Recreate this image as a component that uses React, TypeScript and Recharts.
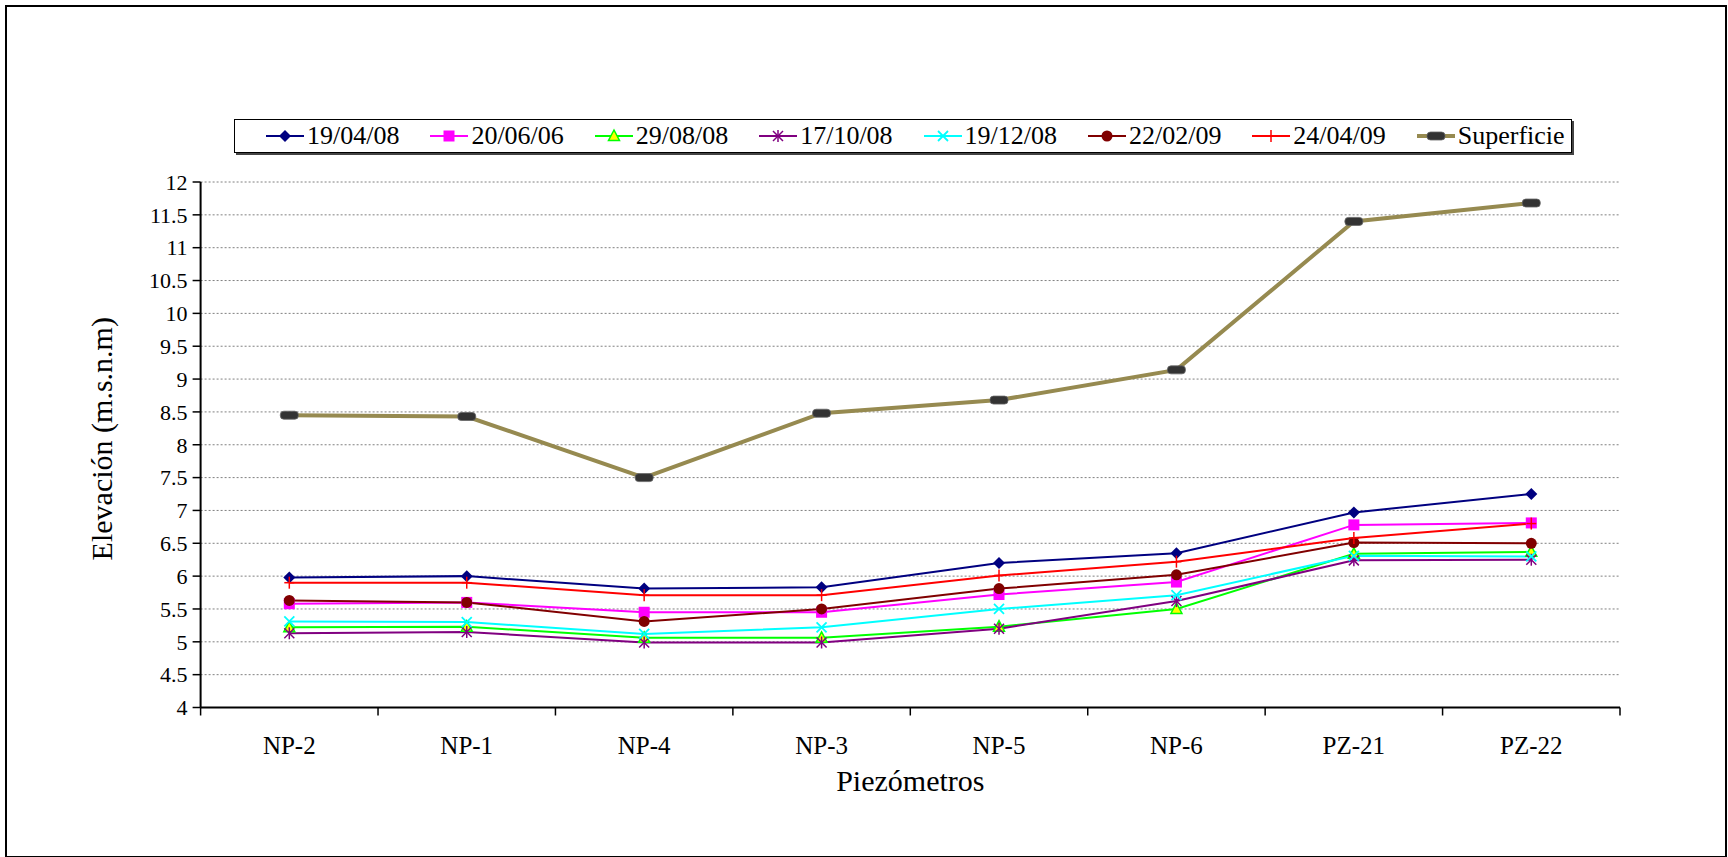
import { LineChart, Line, XAxis, YAxis, CartesianGrid, Label } from 'recharts';

const categories = ['NP-2', 'NP-1', 'NP-4', 'NP-3', 'NP-5', 'NP-6', 'PZ-21', 'PZ-22'];

const s190408 = [5.98, 6.0, 5.81, 5.83, 6.2, 6.35, 6.97, 7.25];
const s200606 = [5.58, 5.6, 5.45, 5.45, 5.72, 5.91, 6.78, 6.81];
const s290808 = [5.22, 5.23, 5.06, 5.06, 5.23, 5.5, 6.34, 6.37];
const s171008 = [5.13, 5.15, 4.99, 4.99, 5.2, 5.62, 6.24, 6.25];
const s191208 = [5.31, 5.3, 5.12, 5.22, 5.5, 5.71, 6.31, 6.3];
const s220209 = [5.63, 5.6, 5.31, 5.5, 5.81, 6.02, 6.51, 6.5];
const s240409 = [5.9, 5.9, 5.71, 5.71, 6.01, 6.22, 6.58, 6.8];
const superficie = [8.45, 8.43, 7.5, 8.48, 8.68, 9.14, 11.4, 11.68];

const yTicks = [4, 4.5, 5, 5.5, 6, 6.5, 7, 7.5, 8, 8.5, 9, 9.5, 10, 10.5, 11, 11.5, 12];

const FONT = 'Liberation Serif, serif';

type Kind = 'diamond' | 'square' | 'triangle' | 'asterisk' | 'x' | 'circle' | 'plus' | 'bar';

const series: { key: string; name: string; values: number[]; color: string; kind: Kind; width: number }[] = [
  { key: 'a', name: '19/04/08', values: s190408, color: '#000080', kind: 'diamond', width: 2 },
  { key: 'b', name: '20/06/06', values: s200606, color: '#FF00FF', kind: 'square', width: 2 },
  { key: 'c', name: '29/08/08', values: s290808, color: '#00FF00', kind: 'triangle', width: 2 },
  { key: 'd', name: '17/10/08', values: s171008, color: '#800080', kind: 'asterisk', width: 2 },
  { key: 'e', name: '19/12/08', values: s191208, color: '#00FFFF', kind: 'x', width: 2 },
  { key: 'f', name: '22/02/09', values: s220209, color: '#800000', kind: 'circle', width: 2 },
  { key: 'g', name: '24/04/09', values: s240409, color: '#FF0000', kind: 'plus', width: 2 },
  { key: 'h', name: 'Superficie', values: superficie, color: '#968A50', kind: 'bar', width: 4 },
];

const data = categories.map((name, i) => {
  const row: Record<string, string | number> = { name };
  series.forEach((s) => {
    row[s.key] = s.values[i];
  });
  return row;
});

const MarkerShape = ({ kind, cx, cy, color }: { kind: Kind; cx: number; cy: number; color: string }) => {
  switch (kind) {
    case 'diamond':
      return <path d={`M${cx},${cy - 6}L${cx + 6},${cy}L${cx},${cy + 6}L${cx - 6},${cy}Z`} fill={color} />;
    case 'square':
      return <rect x={cx - 5.5} y={cy - 5.5} width={11} height={11} fill={color} />;
    case 'triangle':
      return (
        <path d={`M${cx},${cy - 6}L${cx + 5.5},${cy + 4.5}L${cx - 5.5},${cy + 4.5}Z`} fill="#FFFF00" stroke={color} strokeWidth={1.5} />
      );
    case 'asterisk':
      return (
        <g stroke={color} strokeWidth={1.5}>
          <line x1={cx - 5} y1={cy - 5} x2={cx + 5} y2={cy + 5} />
          <line x1={cx - 5} y1={cy + 5} x2={cx + 5} y2={cy - 5} />
          <line x1={cx} y1={cy - 6} x2={cx} y2={cy + 6} />
        </g>
      );
    case 'x':
      return (
        <g stroke={color} strokeWidth={1.8}>
          <line x1={cx - 5} y1={cy - 5} x2={cx + 5} y2={cy + 5} />
          <line x1={cx - 5} y1={cy + 5} x2={cx + 5} y2={cy - 5} />
        </g>
      );
    case 'circle':
      return <circle cx={cx} cy={cy} r={5.5} fill={color} />;
    case 'plus':
      return (
        <g stroke={color} strokeWidth={1.5}>
          <line x1={cx - 5} y1={cy} x2={cx + 5} y2={cy} />
          <line x1={cx} y1={cy - 6} x2={cx} y2={cy + 6} />
        </g>
      );
    case 'bar':
    default:
      return <rect x={cx - 9} y={cy - 4} width={18} height={8} rx={3.5} fill="#333333" stroke="#666" strokeWidth={0.8} />;
  }
};

const CategoryTick = (props: any) => {
  const { x, y, payload, index } = props;
  const half = payload && payload.offset ? payload.offset : 88.7;
  const last = index === categories.length - 1;
  return (
    <g>
      <line x1={x - half} y1={y} x2={x - half} y2={y + 8} stroke="#000" strokeWidth={1.5} />
      {last && <line x1={x + half} y1={y} x2={x + half} y2={y + 8} stroke="#000" strokeWidth={1.5} />}
      <text x={x} y={y + 46.5} textAnchor="middle" fontFamily={FONT} fontSize={25} fill="#000">
        {payload.value}
      </text>
    </g>
  );
};

const YTitle = (props: any) => {
  const vb = props.viewBox || { x: 80, y: 182, width: 120, height: 525 };
  const cx = vb.x + 20.5;
  const cy = vb.y + vb.height / 2 - 6;
  return (
    <text
      x={cx}
      y={cy}
      transform={`rotate(-90, ${cx}, ${cy})`}
      textAnchor="middle"
      dominantBaseline="central"
      fontFamily={FONT}
      fontSize={30}
      fill="#000"
    >
      Elevación (m.s.n.m)
    </text>
  );
};

const XTitle = (props: any) => {
  const vb = props.viewBox || { x: 200, y: 707, width: 1420, height: 60 };
  return (
    <text x={vb.x + vb.width / 2} y={vb.y + vb.height + 23.5} textAnchor="middle" fontFamily={FONT} fontSize={30} fill="#000">
      Piezómetros
    </text>
  );
};

const LegendBox = () => (
  <div
    style={{
      position: 'absolute',
      left: 234,
      top: 119,
      width: 1338,
      height: 34,
      boxSizing: 'border-box',
      border: '1px solid #000',
      boxShadow: '2px 2px 0 #444',
      background: '#fff',
      display: 'flex',
      alignItems: 'center',
      paddingLeft: 31,
      fontFamily: FONT,
      fontSize: 26,
      color: '#000',
    }}
  >
    {series.map((s) => (
      <div key={s.key} style={{ width: 164.4, display: 'flex', alignItems: 'center', flex: '0 0 auto' }}>
        <svg width={38} height={20} style={{ display: 'block' }}>
          <line x1={0} y1={10} x2={38} y2={10} stroke={s.color} strokeWidth={s.width} />
          <MarkerShape kind={s.kind} cx={19} cy={10} color={s.color} />
        </svg>
        <span style={{ marginLeft: 3, whiteSpace: 'nowrap', lineHeight: '30px' }}>{s.name}</span>
      </div>
    ))}
  </div>
);

export default function App() {
  return (
    <div style={{ position: 'absolute', left: 0, top: 0, width: 1728, height: 857, background: '#fff', overflow: 'hidden' }}>
      <div
        style={{
          position: 'absolute',
          left: 5,
          top: 5,
          width: 1722,
          height: 853,
          boxSizing: 'border-box',
          border: '2px solid #000',
        }}
      />
      <div style={{ position: 'absolute', left: 0, top: 0 }}>
        <LineChart width={1728} height={857} data={data} margin={{ top: 182, right: 108, left: 80.6, bottom: 89.5 }}>
          <CartesianGrid vertical={false} stroke="#808080" strokeDasharray="2 2" />
          <XAxis
            dataKey="name"
            scale="band"
            height={60}
            interval={0}
            tickLine={false}
            tickSize={0}
            tickMargin={0}
            axisLine={{ stroke: '#000', strokeWidth: 2 }}
            tick={CategoryTick}
          >
            <Label content={XTitle} />
          </XAxis>
          <YAxis
            type="number"
            domain={[4, 12]}
            ticks={yTicks}
            interval={0}
            width={120}
            tickSize={8}
            tickMargin={5}
            tickLine={{ stroke: '#000', strokeWidth: 1.5 }}
            axisLine={{ stroke: '#000', strokeWidth: 2 }}
            tick={{ fontFamily: FONT, fontSize: 22, fill: '#000' }}
          >
            <Label content={YTitle} />
          </YAxis>
          {series.map((s) => (
            <Line
              key={s.key}
              type="linear"
              dataKey={s.key}
              name={s.name}
              stroke={s.color}
              strokeWidth={s.width}
              isAnimationActive={false}
              activeDot={false}
              dot={(p: any) => <MarkerShape key={`${s.key}-${p.index}`} kind={s.kind} cx={p.cx} cy={p.cy} color={s.color} />}
            />
          ))}
        </LineChart>
      </div>
      <LegendBox />
    </div>
  );
}
